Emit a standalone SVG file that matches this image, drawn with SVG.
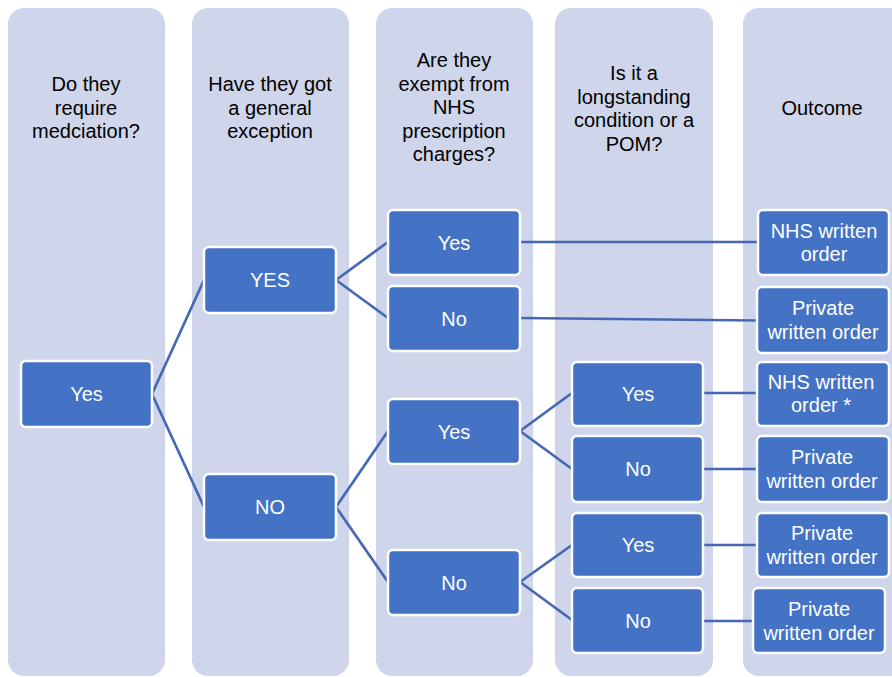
<svg xmlns="http://www.w3.org/2000/svg" width="892" height="677" viewBox="0 0 892 677">
<style>
.lane{fill:#CFD5EA;}
.node rect{fill:#4472C4;stroke:#FFFFFF;stroke-width:2.5;}
.ht{font-family:"Liberation Sans",Arial,sans-serif;font-size:20px;fill:#000000;text-anchor:middle;}
.nt{font-family:"Liberation Sans",Arial,sans-serif;font-size:20px;fill:#FFFFFF;text-anchor:middle;}
.conn{stroke:#4668B2;stroke-width:2.7;fill:none;}
</style>
<rect width="892" height="677" fill="#FFFFFF"/>
<g id="lanes">
<g id="lane1"><rect class="lane" x="8" y="8" width="157" height="668" rx="16"/>
<text class="ht"><tspan x="86" y="91">Do they</tspan><tspan x="86" y="114.5">require</tspan><tspan x="86" y="138">medciation?</tspan></text></g>
<g id="lane2"><rect class="lane" x="192" y="8" width="157" height="668" rx="16"/>
<text class="ht"><tspan x="270" y="91">Have they got</tspan><tspan x="270" y="114.5">a general</tspan><tspan x="270" y="138">exception</tspan></text></g>
<g id="lane3"><rect class="lane" x="376" y="8" width="157" height="668" rx="16"/>
<text class="ht"><tspan x="454" y="67">Are they</tspan><tspan x="454" y="90.5">exempt from</tspan><tspan x="454" y="114">NHS</tspan><tspan x="454" y="137.5">prescription</tspan><tspan x="454" y="161">charges?</tspan></text></g>
<g id="lane4"><rect class="lane" x="555" y="8" width="158" height="668" rx="16"/>
<text class="ht"><tspan x="634" y="80">Is it a</tspan><tspan x="634" y="103.5">longstanding</tspan><tspan x="634" y="127">condition or a</tspan><tspan x="634" y="150.5">POM?</tspan></text></g>
<g id="lane5"><rect class="lane" x="743" y="8" width="170" height="668" rx="16"/>
<text class="ht"><tspan x="822" y="115">Outcome</tspan></text></g>
</g>
<g id="connectors">
<line class="conn" x1="152" y1="394" x2="204" y2="280"/>
<line class="conn" x1="152" y1="394" x2="204" y2="507"/>
<line class="conn" x1="336" y1="280" x2="388" y2="242"/>
<line class="conn" x1="336" y1="280" x2="388" y2="318"/>
<line class="conn" x1="336" y1="507" x2="388" y2="431"/>
<line class="conn" x1="336" y1="507" x2="388" y2="582"/>
<line class="conn" x1="520" y1="242" x2="758" y2="242"/>
<line class="conn" x1="520" y1="318" x2="757" y2="320.5"/>
<line class="conn" x1="520" y1="431" x2="572" y2="393"/>
<line class="conn" x1="520" y1="431" x2="572" y2="469"/>
<line class="conn" x1="520" y1="582" x2="572" y2="545"/>
<line class="conn" x1="520" y1="582" x2="572" y2="620"/>
<line class="conn" x1="703" y1="393" x2="757" y2="393"/>
<line class="conn" x1="703" y1="469" x2="757" y2="469"/>
<line class="conn" x1="703" y1="545" x2="757" y2="545"/>
<line class="conn" x1="703" y1="621" x2="753" y2="621"/>
</g>
<g id="n-yes1" class="node"><rect x="21" y="361" width="131" height="66" rx="5"/><text class="nt" x="86.5" y="401">Yes</text></g>
<g id="n-YES" class="node"><rect x="204" y="247" width="132" height="66" rx="5"/><text class="nt" x="270" y="287">YES</text></g>
<g id="n-NO" class="node"><rect x="204" y="474" width="132" height="66" rx="5"/><text class="nt" x="270" y="514">NO</text></g>
<g id="n-c3-yes1" class="node"><rect x="388" y="210" width="132" height="65" rx="5"/><text class="nt" x="454" y="249.5">Yes</text></g>
<g id="n-c3-no1" class="node"><rect x="388" y="286" width="132" height="65" rx="5"/><text class="nt" x="454" y="325.5">No</text></g>
<g id="n-c3-yes2" class="node"><rect x="388" y="399" width="132" height="65" rx="5"/><text class="nt" x="454" y="438.5">Yes</text></g>
<g id="n-c3-no2" class="node"><rect x="388" y="550" width="132" height="65" rx="5"/><text class="nt" x="454" y="589.5">No</text></g>
<g id="n-c4-yes1" class="node"><rect x="572" y="362" width="131" height="64" rx="5"/><text class="nt" x="638" y="400.5">Yes</text></g>
<g id="n-c4-no1" class="node"><rect x="572" y="436" width="131" height="66" rx="5"/><text class="nt" x="638" y="476">No</text></g>
<g id="n-c4-yes2" class="node"><rect x="572" y="513" width="131" height="64" rx="5"/><text class="nt" x="638" y="551.5">Yes</text></g>
<g id="n-c4-no2" class="node"><rect x="572" y="588" width="131" height="65" rx="5"/><text class="nt" x="638" y="627.5">No</text></g>
<g id="o1" class="node"><rect x="758" y="210" width="131" height="65" rx="5"/><text class="nt"><tspan x="824" y="238">NHS written</tspan><tspan x="824" y="261">order</tspan></text></g>
<g id="o2" class="node"><rect x="757" y="287" width="132" height="66" rx="5"/><text class="nt"><tspan x="823" y="315">Private</tspan><tspan x="823" y="338.5">written order</tspan></text></g>
<g id="o3" class="node"><rect x="757" y="362" width="132" height="64" rx="5"/><text class="nt"><tspan x="821" y="389">NHS written</tspan><tspan x="821" y="412">order *</tspan></text></g>
<g id="o4" class="node"><rect x="757" y="436" width="132" height="66" rx="5"/><text class="nt"><tspan x="822" y="464">Private</tspan><tspan x="822" y="487.5">written order</tspan></text></g>
<g id="o5" class="node"><rect x="757" y="513" width="132" height="64" rx="5"/><text class="nt"><tspan x="822" y="540">Private</tspan><tspan x="822" y="563.5">written order</tspan></text></g>
<g id="o6" class="node"><rect x="753" y="588" width="132" height="65" rx="5"/><text class="nt"><tspan x="819" y="616">Private</tspan><tspan x="819" y="639.5">written order</tspan></text></g>
</svg>
